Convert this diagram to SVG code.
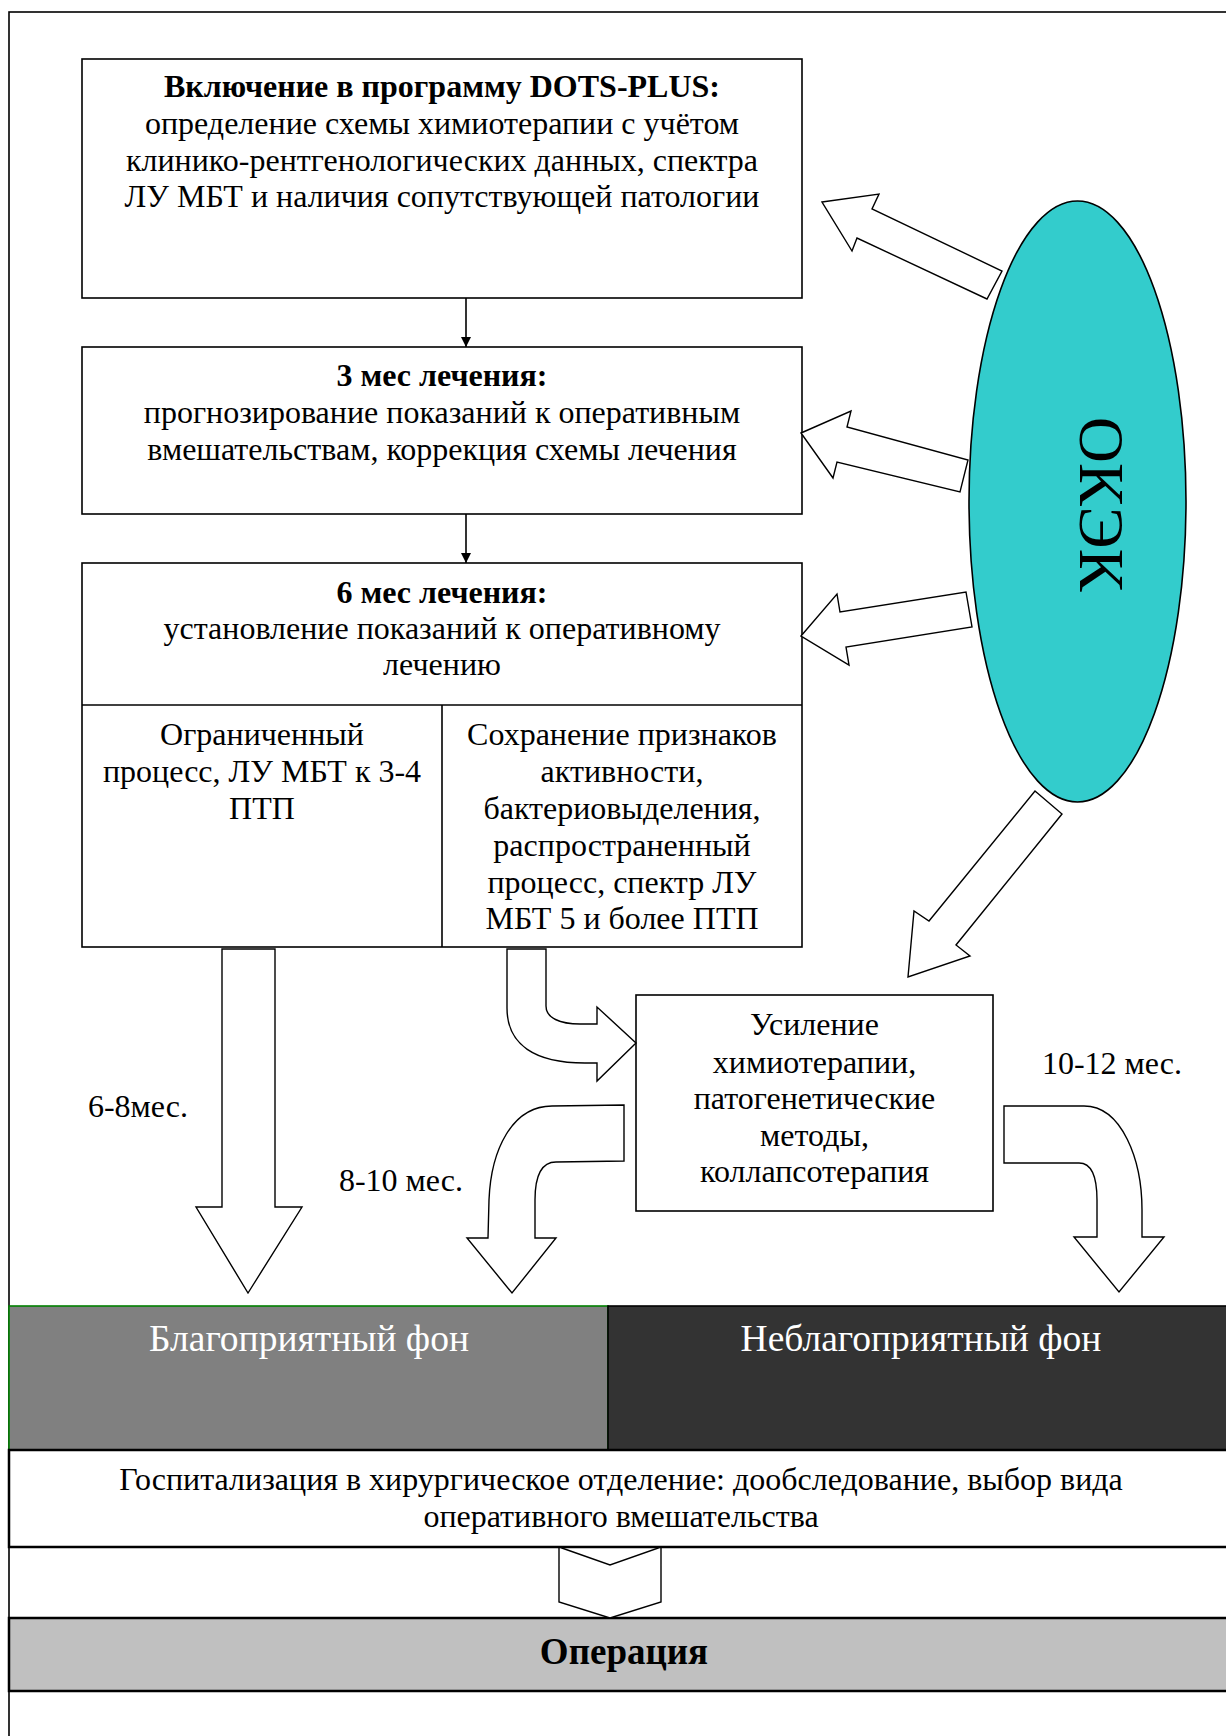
<svg xmlns="http://www.w3.org/2000/svg" width="1226" height="1736" viewBox="0 0 1226 1736">
<defs>
<style>
.box{fill:#fff;stroke:#000;stroke-width:1.6}
.blk{fill:#fff;stroke:#000;stroke-width:1.4;stroke-linejoin:miter}
.t{font-family:"Liberation Serif","Times New Roman",serif;font-size:32px;text-anchor:middle;fill:#000}
.b{font-weight:bold}
.w{fill:#fff}
.band{stroke:#000;stroke-width:2.5}
</style>
<marker id="ah" viewBox="0 0 10 10" refX="10" refY="5" markerWidth="10" markerHeight="10" markerUnits="userSpaceOnUse" orient="auto">
<path d="M0,0 L10,5 L0,10 Z" fill="#000"/>
</marker>
</defs>
<rect width="1226" height="1736" fill="#fff"/>
<rect x="9" y="12" width="1300" height="1800" fill="none" stroke="#000" stroke-width="1.6"/>

<g id="box1">
<rect class="box" x="82" y="59" width="720" height="239"/>
<text class="t b" x="442" y="97">Включение в программу DOTS-PLUS:</text>
<text class="t" x="442" y="134">определение схемы химиотерапии с учётом</text>
<text class="t" x="442" y="171">клинико-рентгенологических данных, спектра</text>
<text class="t" x="442" y="207">ЛУ МБТ и наличия сопутствующей патологии</text>
</g>

<g id="box2">
<rect class="box" x="82" y="347" width="720" height="167"/>
<text class="t b" x="442" y="386">3 мес лечения:</text>
<text class="t" x="442" y="423">прогнозирование показаний к оперативным</text>
<text class="t" x="442" y="460">вмешательствам, коррекция схемы лечения</text>
</g>

<g id="box3">
<rect class="box" x="82" y="563" width="720" height="384"/>
<line x1="82" y1="705" x2="802" y2="705" stroke="#000" stroke-width="1.6"/>
<line x1="442" y1="705" x2="442" y2="947" stroke="#000" stroke-width="1.6"/>
<text class="t b" x="442" y="603">6 мес лечения:</text>
<text class="t" x="442" y="639">установление показаний к оперативному</text>
<text class="t" x="442" y="675">лечению</text>
<text class="t" x="262" y="745">Ограниченный</text>
<text class="t" x="262" y="782">процесс, ЛУ МБТ к 3-4</text>
<text class="t" x="262" y="819">ПТП</text>
<text class="t" x="622" y="745">Сохранение признаков</text>
<text class="t" x="622" y="782">активности,</text>
<text class="t" x="622" y="819">бактериовыделения,</text>
<text class="t" x="622" y="856">распространенный</text>
<text class="t" x="622" y="893">процесс, спектр ЛУ</text>
<text class="t" x="622" y="929">МБТ 5 и более ПТП</text>
</g>

<g id="okek">
<ellipse cx="1077.5" cy="501.5" rx="108.5" ry="300.5" fill="#33CCCC" stroke="#000" stroke-width="1.6"/>
<text class="t" transform="translate(1080,504) rotate(90)" style="font-size:64px">ОКЭК</text>
</g>

<g id="box4">
<rect class="box" x="636" y="995" width="357" height="216"/>
<text class="t" x="814.5" y="1035">Усиление</text>
<text class="t" x="814.5" y="1073">химиотерапии,</text>
<text class="t" x="814.5" y="1109">патогенетические</text>
<text class="t" x="814.5" y="1146">методы,</text>
<text class="t" x="814.5" y="1182">коллапсотерапия</text>
</g>

<g id="labels">
<text class="t" x="138" y="1117">6-8мес.</text>
<text class="t" x="401" y="1191">8-10 мес.</text>
<text class="t" x="1112" y="1074">10-12 мес.</text>
</g>

<g id="backgrounds">
<rect x="9" y="1306" width="599" height="144" fill="#808080" stroke="#008000" stroke-width="1.6"/>
<rect x="608" y="1306" width="700" height="144" fill="#333333" stroke="#000" stroke-width="1.6"/>
<text class="t w" x="309" y="1351" style="font-size:37.5px">Благоприятный фон</text>
<text class="t w" x="921" y="1351" style="font-size:37.5px">Неблагоприятный фон</text>
</g>

<g id="hospital">
<rect class="band" x="9" y="1450" width="1300" height="97" fill="#fff"/>
<text class="t" x="621" y="1490">Госпитализация в хирургическое отделение: дообследование, выбор вида</text>
<text class="t" x="621" y="1527">оперативного вмешательства</text>
</g>

<g id="operation">
<rect class="band" x="9" y="1618" width="1300" height="73" fill="#C0C0C0"/>
<text class="t b" x="624" y="1664" style="font-size:37px">Операция</text>
</g>

<g id="connectors">
<line x1="466" y1="298" x2="466" y2="347" stroke="#000" stroke-width="1.6" marker-end="url(#ah)"/>
<line x1="466" y1="514" x2="466" y2="563" stroke="#000" stroke-width="1.6" marker-end="url(#ah)"/>
<polygon class="blk" points="822,202 879,194 872,209 1002,271 987,299 857,238 852,251"/>
<polygon class="blk" points="801,433 851,411 847,427 968,460 960,492 837,462 833,478"/>
<polygon class="blk" points="801,636 837,594 840,612 966,592 972,627 846,647 849,665"/>
<polygon class="blk" points="1035,791 1062,814 956,945 970,956 908,977 914,911 929,921"/>
<polygon class="blk" points="222,949 275,949 275,1207 302,1207 248,1293 196,1207 222,1207"/>
<path class="blk" d="M507,949 L546,949 L546,1006 C546,1018 560,1024 580,1024 L597,1024 L597,1007 L636,1043 L597,1081 L597,1063 L585,1063 C535,1063 507,1045 507,1008 Z"/>
<path class="blk" d="M624,1105 L552,1106 C512,1106 491,1150 489,1200 L488,1238 L467,1238 L512,1293 L556,1238 L535,1238 L535,1200 C535,1176 541,1162 556,1162 L624,1161 Z"/>
<path class="blk" d="M1004,1106 L1084,1106 C1122,1106 1142,1160 1142,1210 L1142,1237 L1164,1237 L1119,1292 L1074,1237 L1097,1237 L1097,1200 C1097,1176 1091,1163 1079,1163 L1004,1163 Z"/>
<polygon class="blk" points="559,1547 610,1565 661,1547 661,1602 610,1618 559,1602"/>
</g>
</svg>
